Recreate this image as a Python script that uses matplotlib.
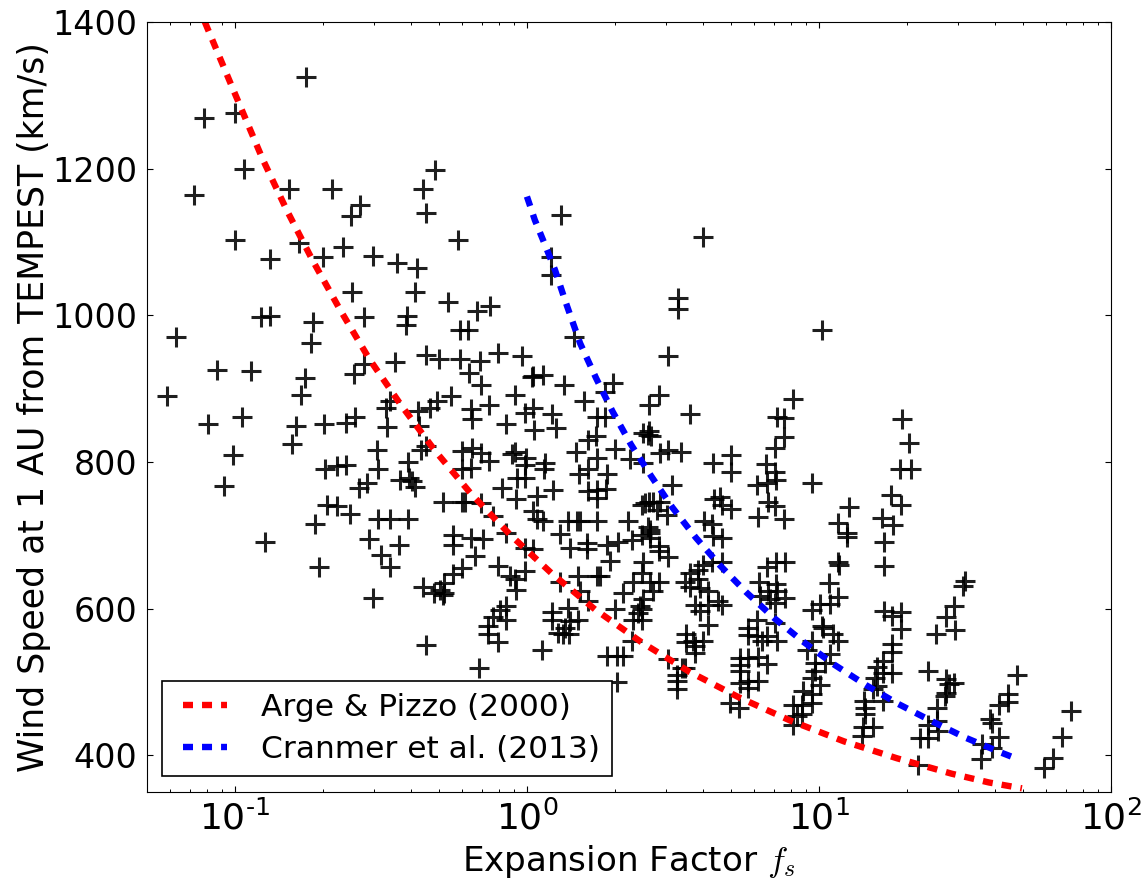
import numpy as np
import matplotlib
matplotlib.use("Agg")
import matplotlib.pyplot as plt
from matplotlib.ticker import LogLocator, NullFormatter, FuncFormatter

# values; expansion factor kept as log10(fs)
log_fs = [
    -0.755, -1.107, -0.999, -0.968, -1.139, -0.814, -0.667, -0.571, -0.602, -0.314, -0.357, -0.346, -0.237, -0.999,
    -0.881, -0.782, -0.699, -0.631, -0.527, -0.446, -0.378, -0.599, -0.385, -0.270, -0.171, -0.127, -0.911, -0.879,
    -0.731, -0.558, -0.409, -0.414, -1.201, -0.741, -0.344, -0.302, -0.451, -0.559, -0.591, -1.062, -0.944, -0.761,
    -0.773, -1.233, -0.470, -0.482, -0.374, -0.333, -0.308, -0.479, -0.371, -0.975, -1.092, -0.792, -0.695, -0.621,
    -0.588, -0.804, -0.515, -0.345, -0.362, -1.006, -0.407, -0.693, -0.652, -0.620, -0.511, -1.037, -0.546, -0.576,
    -0.436, -0.405, -0.385, -0.394, -0.287, -0.683, -0.652, -0.607, -0.725, -0.509, -0.469, -0.407, -0.540, -0.437,
    -0.499, -0.468, -0.897, -0.713, -0.528, -0.357, -0.317, -0.285, -0.285, -0.229, -0.202, -0.229, -0.161, -0.098,
    -0.016, -0.198, -0.159, 0.022, 0.016, 0.054, 0.128, -0.041, -0.260, -0.193, -0.130, 0.196, 0.296, 0.267,
    0.419, 0.022, -0.007, 0.086, 0.241, 0.267, -0.187, -0.072, 0.098, 0.024, 0.235, 0.210, 0.398, 0.414,
    0.167, 0.301, -0.222, -0.189, -0.158, -0.129, -0.041, -0.052, -0.004, 0.239, 0.353, 0.062, 0.058, -0.007,
    -0.224, -0.193, 0.210, 0.179, 0.273, -0.033, -0.007, 0.088, -0.087, 0.239, 0.270, 0.208, 0.035, -0.039,
    0.239, -0.224, -0.212, -0.158, -0.115, 0.022, 0.035, 0.056, 0.141, 0.170, 0.182, 0.241, 0.345, 0.393,
    0.418, 0.414, -0.254, -0.252, -0.192, -0.150, -0.070, -0.007, 0.022, 0.113, 0.147, 0.207, 0.207, 0.273,
    0.313, 0.359, 0.393, 0.421, -0.178, -0.224, -0.252, -0.098, 0.284, 0.396, -0.041, -0.007, -0.058, -0.039,
    0.176, 0.250, 0.239, 0.113, 0.393, 0.364, 0.330, 0.182, 0.210, -0.298, -0.287, -0.070, -0.092, 0.141,
    0.085, 0.301, 0.387, 0.364, 0.381, -0.070, -0.115, -0.133, -0.133, -0.098, 0.085, 0.176, 0.147, 0.107,
    0.124, 0.144, 0.130, -0.346, 0.052, -0.163, 0.273, 0.307, 0.330, 0.359, 0.307, 1.009, 0.482, 0.452,
    0.558, 0.418, 0.424, 0.455, 0.484, 0.526, 0.698, 0.638, 0.698, 0.911, 0.857, 0.880, 0.880, 0.849,
    0.818, 0.849, 0.852, 0.787, 0.821, 0.976, 0.496, 0.396, 0.661, 0.640, 0.667, 0.698, 0.826, 0.849,
    0.792, 0.881, 1.283, 1.309, 1.277, 1.316, 1.248, 1.282, 1.102, 1.066, 1.097, 1.097, 1.217, 1.255,
    1.223, 1.222, 0.606, 0.633, 0.638, 0.667, 0.421, 0.421, 0.433, 0.404, 0.455, 0.444, 0.478, 0.453,
    0.452, 0.484, 0.421, 0.453, 0.433, 0.398, 0.393, 0.393, 0.667, 0.633, 0.604, 0.587, 0.558, 0.541,
    0.587, 0.558, 0.592, 0.621, 0.655, 0.667, 0.575, 0.621, 0.592, 0.621, 0.545, 0.570, 0.604, 0.545,
    0.575, 0.575, 0.484, 0.530, 0.541, 0.513, 0.513, 0.513, 0.695, 0.727, 0.852, 0.884, 0.821, 0.796,
    0.852, 0.826, 0.855, 0.884, 0.832, 0.798, 0.849, 0.787, 0.849, 0.758, 0.758, 0.787, 0.804, 0.855,
    0.821, 0.729, 0.758, 0.792, 0.821, 0.729, 0.729, 0.729, 0.758, 0.792, 0.758, 1.034, 1.066, 1.068,
    1.066, 1.038, 1.003, 0.975, 1.009, 1.015, 1.049, 1.066, 0.977, 0.958, 1.038, 0.986, 1.021, 0.986,
    0.975, 1.003, 0.944, 0.975, 0.975, 0.912, 0.943, 0.943, 0.912, 0.924, 1.223, 1.280, 1.251, 1.280,
    1.249, 1.249, 1.220, 1.249, 1.198, 1.220, 1.192, 1.198, 1.186, 1.154, 1.218, 1.158, 1.158, 1.186,
    1.152, 1.146, 1.374, 1.434, 1.463, 1.434, 1.446, 1.403, 1.432, 1.403, 1.374, 1.374, 1.346, 1.409,
    1.340, 1.500, 1.494, 1.463, 1.434, 1.401, 1.466, 1.679, 1.646, 1.648, 1.616, 1.586, 1.591, 1.617,
    1.559, 1.591, 1.555, 1.863, 1.831, 1.800, 1.771, 0.116, 0.082, 0.082, 0.603, 0.517, 0.517, 0.161,
]
wind_speed = [
    1325, 1269, 1276, 1199, 1164, 1172, 1172, 1150, 1136, 1198, 1172, 1139, 1103, 1103,
    1077, 1098, 1079, 1093, 1081, 1072, 1064, 1032, 1032, 1018, 1006, 1013, 998, 999,
    991, 998, 999, 987, 970, 962, 946, 940, 936, 933, 920, 926, 924, 915,
    891, 890, 883, 874, 870, 874, 883, 848, 849, 862, 852, 849, 852, 853,
    861, 825, 817, 822, 816, 810, 800, 790, 794, 796, 790, 767, 772, 764,
    776, 778, 766, 774, 745, 742, 740, 729, 715, 722, 722, 722, 695, 687,
    673, 657, 691, 657, 614, 629, 622, 635, 622, 980, 980, 941, 938, 949,
    944, 921, 905, 917, 916, 918, 905, 891, 890, 872, 878, 883, 908, 895,
    878, 873, 867, 866, 861, 861, 859, 852, 847, 843, 835, 830, 839, 837,
    814, 818, 815, 819, 812, 802, 814, 811, 806, 806, 804, 798, 791, 796,
    790, 792, 791, 783, 784, 778, 778, 762, 764, 762, 763, 761, 753, 750,
    751, 746, 746, 744, 726, 733, 722, 719, 719, 719, 719, 719, 720, 742,
    745, 712, 701, 687, 697, 695, 703, 683, 681, 702, 683, 690, 682, 687,
    691, 694, 701, 703, 672, 655, 647, 658, 665, 663, 641, 651, 644, 626,
    644, 645, 645, 637, 649, 637, 622, 624, 611, 626, 618, 603, 598, 601,
    595, 600, 603, 585, 594, 585, 588, 576, 565, 555, 584, 585, 583, 567,
    565, 565, 574, 550, 543, 519, 536, 536, 535, 556, 500, 980, 944, 891,
    866, 842, 835, 812, 816, 814, 810, 799, 787, 886, 862, 860, 834, 819,
    797, 786, 776, 768, 771, 772, 769, 798, 752, 749, 742, 736, 746, 740,
    725, 722, 859, 826, 791, 790, 755, 742, 738, 717, 703, 698, 723, 714,
    691, 658, 720, 715, 699, 696, 707, 697, 746, 744, 746, 735, 728, 685,
    678, 671, 637, 637, 624, 613, 599, 585, 663, 663, 660, 653, 648, 637,
    640, 630, 628, 624, 610, 605, 605, 605, 597, 578, 565, 556, 556, 554,
    549, 540, 531, 519, 519, 510, 501, 491, 472, 464, 663, 663, 657, 637,
    633, 624, 624, 614, 613, 617, 608, 585, 581, 574, 564, 563, 556, 556,
    563, 533, 533, 534, 525, 523, 515, 499, 501, 501, 492, 635, 663, 660,
    616, 606, 606, 598, 576, 574, 565, 556, 556, 544, 538, 526, 526, 515,
    506, 496, 488, 483, 472, 469, 469, 456, 442, 454, 597, 596, 590, 572,
    552, 541, 528, 512, 520, 512, 506, 494, 490, 474, 474, 465, 456, 439,
    438, 426, 515, 504, 498, 485, 497, 464, 481, 447, 442, 424, 423, 433,
    387, 638, 631, 603, 589, 566, 571, 510, 483, 473, 469, 450, 444, 425,
    416, 410, 395, 460, 425, 396, 383, 1137, 1080, 1055, 1107, 1024, 1008, 971,
]

arge_log_fs = [-1.103, -1.006, -0.905, -0.822, -0.734, -0.639, -0.539, -0.430, -0.314, -0.192, -0.058,
               0.085, 0.233, 0.393, 0.556, 0.726, 0.904, 1.086, 1.267, 1.454, 1.582, 1.695]
arge_speed = [1400, 1308, 1213, 1143, 1075, 1007, 940, 877, 815, 757, 701,
              648, 599, 554, 514, 479, 447, 419, 396, 375, 363, 355]

cranmer_log_fs = [0.0, 0.027, 0.062, 0.096, 0.130, 0.182, 0.236, 0.293, 0.356, 0.425, 0.498, 0.578,
                  0.661, 0.752, 0.847, 0.946, 1.051, 1.160, 1.272, 1.384, 1.502, 1.622, 1.680]
cranmer_speed = [1162, 1130, 1096, 1062, 1021, 962, 915, 869, 824, 781, 738, 697,
                 659, 622, 587, 555, 524, 496, 470, 447, 424, 404, 395]


def log_label(val, pos):
    exp = int(np.round(np.log10(val)))
    return r"$\mathdefault{10^{\text{%d}}}$" % exp


plt.rcParams["lines.scale_dashes"] = False

fig = plt.figure(figsize=(11.47, 8.84), dpi=100)
ax = fig.add_axes([147 / 1147, 1 - 792 / 884, 964 / 1147, 770 / 884])

ax.plot(10 ** np.array(log_fs), wind_speed, linestyle="none", marker="+", color="k", alpha=0.88,
        markersize=14, markeredgewidth=2.2)
dash = (0, (7.2, 6.5))
ax.plot(10 ** np.array(arge_log_fs), arge_speed, color="red", linewidth=4.6, linestyle=dash,
        dash_capstyle="butt", label="Arge & Pizzo (2000)")
ax.plot(10 ** np.array(cranmer_log_fs), cranmer_speed, color="blue", linewidth=4.6, linestyle=dash,
        dash_capstyle="butt", label="Cranmer et al. (2013)")

ax.set_xscale("log")
ax.set_xlim(0.05, 100)
ax.set_ylim(350, 1400)
ax.set_yticks([400, 600, 800, 1000, 1200, 1400])
ax.xaxis.set_major_locator(LogLocator(base=10, numticks=6))
ax.xaxis.set_minor_locator(LogLocator(base=10, subs=np.arange(2, 10), numticks=12))
ax.xaxis.set_major_formatter(FuncFormatter(log_label))
ax.xaxis.set_minor_formatter(NullFormatter())
ax.tick_params(which="major", direction="in", length=4, width=0.8, top=True, right=True, labelsize=24, pad=7)
ax.tick_params(axis="x", which="major", labelsize=26, pad=6)
ax.tick_params(which="minor", direction="in", length=2, width=0.7, top=True, right=True)

ax.set_xlabel(r"Expansion Factor $f_s$", fontsize=24.6, labelpad=5, math_fontfamily="cm")
ax.set_ylabel("Wind Speed at 1 AU from TEMPEST (km/s)", fontsize=25, labelpad=1)

leg = ax.legend(loc="lower left", bbox_to_anchor=(15 / 964, 16 / 770), borderaxespad=0, fontsize=22.5,
                fancybox=False, framealpha=1, edgecolor="k", numpoints=2, handlelength=2, handletextpad=0.8,
                labelspacing=0.42, borderpad=0.38)
leg.get_frame().set_linewidth(1.2)

fig.savefig("out.png", dpi=100)
